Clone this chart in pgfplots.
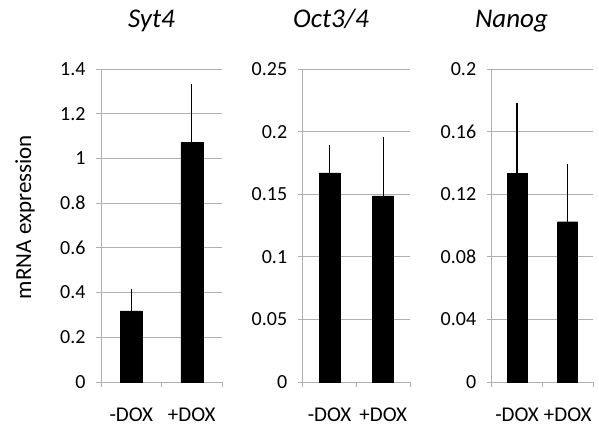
\documentclass[border=0pt]{standalone}
\usepackage{pgfplots}
\pgfplotsset{compat=1.18}
\usepackage{fontspec}
\setmainfont{Carlito}
\definecolor{gridgray}{RGB}{175,175,175}
\begin{document}
\begin{tikzpicture}
\useasboundingbox (0pt,0pt) rectangle (599pt,432pt);
\pgfplotsset{
  panel/.style={
    scale only axis, height=313pt, ymin=0,
    xmin=-0.5, xmax=1.5,
    axis x line*=bottom, axis y line*=left,
    axis line style={gridgray, line width=1pt},
    every tick/.style={gridgray, line width=1pt},
    tick align=outside, major tick length=5pt,
    ymajorgrids, grid style={gridgray, line width=1pt},
    xtick={-0.5,0.5,1.5}, xticklabels={},
    extra x ticks={0,1}, extra x tick labels={-DOX,+DOX},
    extra x tick style={major tick length=0pt, grid=none},
    xticklabel style={font=\fontsize{21}{24}\selectfont, anchor=base, yshift=-39pt},
    yticklabel style={font=\fontsize{20}{23}\selectfont, xshift=-7pt,
      /pgf/number format/fixed, /pgf/number format/precision=2},
    /pgf/number format/assume math mode=true,
    scaled y ticks=false,
    anchor=south west,
  },
  barplot/.style={ybar, fill=black, draw=black,
    error bars/.cd, y dir=plus, y explicit, error mark=none,
    error bar style={line width=1.3pt, black}},
}
\begin{axis}[panel, at={(101pt,50pt)}, width=121pt, ymax=1.4,
  ytick={0,0.2,0.4,0.6,0.8,1,1.2,1.4}]
\addplot[bar width=22pt, barplot] coordinates {(0,0.318) +- (0,0.098) (1,1.073) +- (0,0.259)};
\end{axis}
\begin{axis}[panel, at={(302.7pt,50pt)}, width=107.3pt, ymax=0.25,
  ytick={0,0.05,0.1,0.15,0.2,0.25}]
\addplot[bar width=21pt, barplot] coordinates {(0,0.167) +- (0,0.022) (1,0.1486) +- (0,0.047)};
\end{axis}
\begin{axis}[panel, at={(491.7pt,50pt)}, width=101.3pt, ymax=0.2,
  ytick={0,0.04,0.08,0.12,0.16,0.2}]
\addplot[bar width=20pt, barplot] coordinates {(0,0.1333) +- (0,0.045) (1,0.1024) +- (0,0.037)};
\end{axis}
\node[rotate=90, font=\fontsize{23}{27}\selectfont] at (25pt,215pt) {mRNA expression};
\node[anchor=base, font=\fontsize{27}{31}\selectfont\itshape] at (151.5pt,404pt) {Syt4};
\node[anchor=base, font=\fontsize{27}{31}\selectfont\itshape] at (331pt,404pt) {Oct3/4};
\node[anchor=base, font=\fontsize{27}{31}\selectfont\itshape] at (511.5pt,404pt) {Nanog};
\end{tikzpicture}
\end{document}
